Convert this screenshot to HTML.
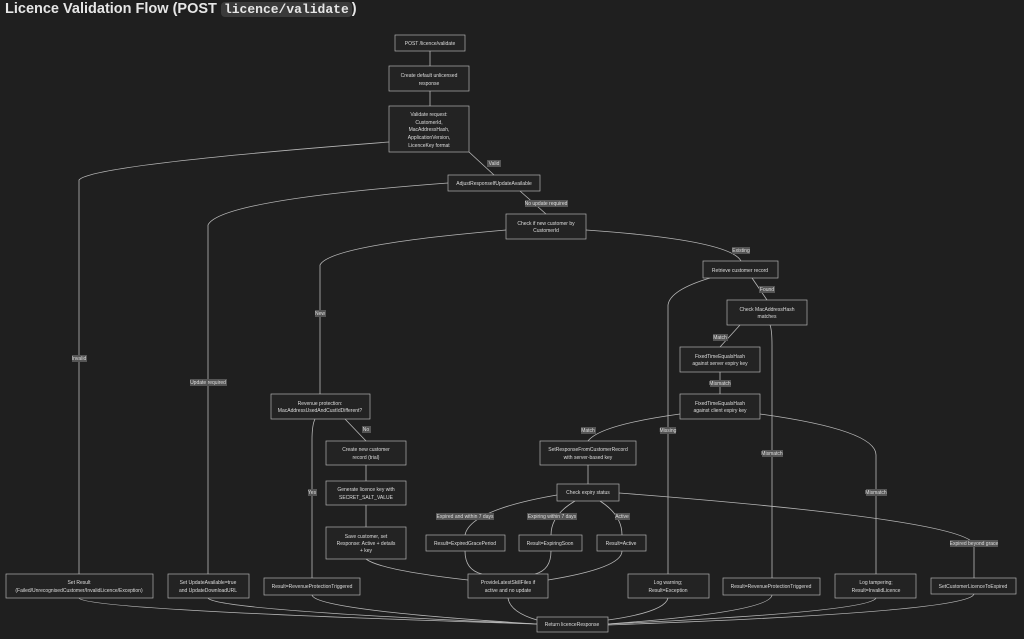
<!DOCTYPE html>
<html><head><meta charset="utf-8"><style>
html,body{margin:0;padding:0;background:#1f1f1f;width:1024px;height:639px;overflow:hidden}
.t{position:absolute;left:5px;top:1px;font:bold 14.5px "Liberation Sans",sans-serif;color:#e6e6e6;white-space:nowrap}
.t code{font-family:"Liberation Mono",monospace;background:#3a3a3a;border-radius:4px;padding:0 3px;font-weight:bold;font-size:13px}
svg{position:absolute;left:0;top:0}
</style></head><body>
<div class="t">Licence Validation Flow (POST <code>licence/validate</code>)</div>
<svg width="1024" height="639" font-family="Liberation Sans, sans-serif" font-size="5" fill="#ddd">
<g fill="none" stroke="#b8b8b8" stroke-width="0.8">
<path d="M430 51V66"/><path d="M430 91V106"/>
<path d="M469 152L494 175"/>
<path d="M389 142Q90 165 79 180V574"/>
<path d="M448 183Q220 200 208 225V574"/>
<path d="M520 191L546 214"/>
<path d="M506 230Q330 245 320 265V394"/>
<path d="M586 230Q730 240 741 261"/>
<path d="M752 278L767 300"/>
<path d="M740 325L720 347"/>
<path d="M720 372V394"/>
<path d="M710 278Q670 290 668 305V574"/>
<path d="M770 325Q772 330 772 345V578"/>
<path d="M680 414Q600 425 588 441"/>
<path d="M760 414Q876 430 876 455V574"/>
<path d="M315 419Q312 425 312 440V578"/>
<path d="M345 419L366 441"/>
<path d="M366 465V481"/><path d="M366 505V527"/>
<path d="M588 465V484"/>
<path d="M557 495Q470 510 465 535"/>
<path d="M575 501Q551 515 551 535"/>
<path d="M600 501Q622 515 622 535"/>
<path d="M619 493Q970 520 974 545V578"/>
<path d="M366 559Q380 570 468 580"/>
<path d="M465 551Q465 570 482 574"/>
<path d="M551 551Q551 570 535 574"/>
<path d="M622 551Q622 568 548 580"/>
<path d="M508 598Q510 612 537 620"/>
<path d="M79 598Q85 610 537 624"/>
<path d="M208 598Q215 610 537 624"/>
<path d="M312 595Q315 610 537 624"/>
<path d="M668 598Q665 612 608 620"/>
<path d="M772 595Q770 612 608 624"/>
<path d="M876 598Q870 612 608 624"/>
<path d="M974 594Q970 612 608 625"/>
</g>
<g fill="#232323" stroke="#b0b0b0" stroke-width="0.7">
<rect x="395" y="35" width="70" height="16"/>
<rect x="389" y="66" width="80" height="25"/>
<rect x="389" y="106" width="80" height="46"/>
<rect x="448" y="175" width="92" height="16"/>
<rect x="506" y="214" width="80" height="25"/>
<rect x="703" y="261" width="75" height="17"/>
<rect x="727" y="300" width="80" height="25"/>
<rect x="680" y="347" width="80" height="25"/>
<rect x="680" y="394" width="80" height="25"/>
<rect x="271" y="394" width="99" height="25"/>
<rect x="326" y="441" width="80" height="24"/>
<rect x="326" y="481" width="80" height="24"/>
<rect x="326" y="527" width="80" height="32"/>
<rect x="540" y="441" width="96" height="24"/>
<rect x="557" y="484" width="62" height="17"/>
<rect x="426" y="535" width="79" height="16"/>
<rect x="519" y="535" width="63" height="16"/>
<rect x="597" y="535" width="49" height="16"/>
<rect x="468" y="574" width="80" height="24"/>
<rect x="6" y="574" width="147" height="24"/>
<rect x="168" y="574" width="81" height="24"/>
<rect x="264" y="578" width="96" height="17"/>
<rect x="628" y="574" width="81" height="24"/>
<rect x="723" y="578" width="97" height="17"/>
<rect x="835" y="574" width="81" height="24"/>
<rect x="931" y="578" width="85" height="16"/>
<rect x="537" y="617" width="71" height="15"/>
</g>
<g fill="#555">
<rect x="487" y="160" width="14" height="7"/><rect x="525" y="200" width="43" height="7"/>
<rect x="72" y="355" width="15" height="7"/><rect x="190" y="379" width="37" height="7"/>
<rect x="315" y="310" width="11" height="7"/><rect x="732" y="247" width="18" height="7"/>
<rect x="759" y="286" width="16" height="7"/><rect x="713" y="334" width="15" height="7"/>
<rect x="710" y="380" width="21" height="7"/><rect x="660" y="427" width="16" height="7"/>
<rect x="762" y="450" width="21" height="7"/><rect x="866" y="489" width="21" height="7"/>
<rect x="581" y="427" width="15" height="7"/><rect x="362" y="426" width="9" height="7"/>
<rect x="308" y="489" width="9" height="7"/><rect x="436" y="513" width="58" height="7"/>
<rect x="527" y="513" width="50" height="7"/><rect x="615" y="513" width="15" height="7"/>
<rect x="950" y="540" width="48" height="7"/>
</g>
<g text-anchor="middle">
<text x="430" y="45">POST /licence/validate</text>
<text x="429" y="77">Create default unlicensed</text><text x="429" y="85">response</text>
<text x="429" y="116">Validate request:</text><text x="429" y="124">CustomerId,</text><text x="429" y="131">MacAddressHash,</text><text x="429" y="139">ApplicationVersion,</text><text x="429" y="147">LicenceKey format</text>
<text x="494" y="185">AdjustResponseIfUpdateAvailable</text>
<text x="546" y="225">Check if new customer by</text><text x="546" y="232">CustomerId</text>
<text x="740" y="272">Retrieve customer record</text>
<text x="767" y="311">Check MacAddressHash</text><text x="767" y="318">matches</text>
<text x="720" y="358">FixedTimeEqualsHash</text><text x="720" y="365">against server expiry key</text>
<text x="720" y="405">FixedTimeEqualsHash</text><text x="720" y="412">against client expiry key</text>
<text x="320" y="405">Revenue protection:</text><text x="320" y="412">MacAddressUsedAndCustIdDifferent?</text>
<text x="366" y="451">Create new customer</text><text x="366" y="459">record (trial)</text>
<text x="366" y="491">Generate licence key with</text><text x="366" y="499">SECRET_SALT_VALUE</text>
<text x="366" y="538">Save customer, set</text><text x="366" y="545">Response: Active + details</text><text x="366" y="552">+ key</text>
<text x="588" y="451">SetResponseFromCustomerRecord</text><text x="588" y="459">with server-based key</text>
<text x="588" y="494">Check expiry status</text>
<text x="465" y="545">Result=ExpiredGracePeriod</text>
<text x="550" y="545">Result=ExpiringSoon</text>
<text x="621" y="545">Result=Active</text>
<text x="508" y="584">ProvideLatestSkillFiles if</text><text x="508" y="592">active and no update</text>
<text x="79" y="584">Set Result</text><text x="79" y="592">(Failed/UnrecognisedCustomer/InvalidLicence/Exception)</text>
<text x="208" y="584">Set UpdateAvailable=true</text><text x="208" y="592">and UpdateDownloadURL</text>
<text x="312" y="588">Result=RevenueProtectionTriggered</text>
<text x="668" y="584">Log warning;</text><text x="668" y="592">Result=Exception</text>
<text x="771" y="588">Result=RevenueProtectionTriggered</text>
<text x="876" y="584">Log tampering;</text><text x="876" y="592">Result=InvalidLicence</text>
<text x="973" y="588">SetCustomerLicenceToExpired</text>
<text x="572" y="626">Return licenceResponse</text>
<text x="494" y="165">Valid</text><text x="546" y="205">No update required</text>
<text x="79" y="360">Invalid</text><text x="208" y="384">Update required</text>
<text x="320" y="315">New</text><text x="741" y="252">Existing</text>
<text x="767" y="291">Found</text><text x="720" y="339">Match</text>
<text x="720" y="385">Mismatch</text><text x="668" y="432">Missing</text>
<text x="772" y="455">Mismatch</text><text x="876" y="494">Mismatch</text>
<text x="588" y="432">Match</text><text x="366" y="431">No</text>
<text x="312" y="494">Yes</text><text x="465" y="518">Expired and within 7 days</text>
<text x="552" y="518">Expiring within 7 days</text><text x="622" y="518">Active</text>
<text x="974" y="545">Expired beyond grace</text>
</g>
</svg>
</body></html>
